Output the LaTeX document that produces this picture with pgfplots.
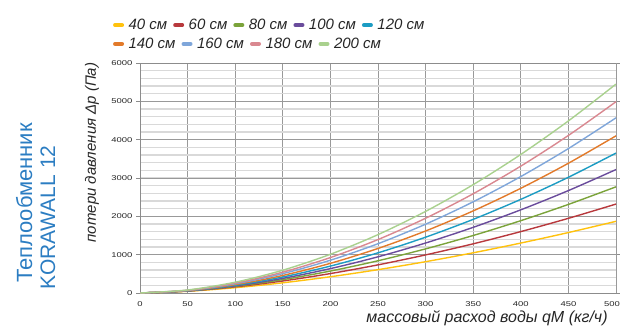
\documentclass[border=0pt]{standalone}
\usepackage{fontspec}
\setmainfont{Liberation Sans}
\newfontfamily\tickfont[FakeStretch=1.35]{Liberation Sans}
\usepackage{pgfplots}
\usepackage{pgfplotstable}
\pgfplotsset{compat=1.18}
\definecolor{c40}{HTML}{FFC20E}
\definecolor{c60}{HTML}{B8393D}
\definecolor{c80}{HTML}{7BA33A}
\definecolor{c100}{HTML}{6A4C9C}
\definecolor{c120}{HTML}{1C9CC3}
\definecolor{c140}{HTML}{E27A2A}
\definecolor{c160}{HTML}{7FA6DA}
\definecolor{c180}{HTML}{D98890}
\definecolor{c200}{HTML}{A9D18E}
\definecolor{titleblue}{HTML}{2B7DC2}
\pgfplotstableread{
x s40 s60 s80 s100 s120 s140 s160 s180 s200
0 0 0 0 0 0 0 0 0 0
50 45 51 53 55 58 62 68 72 79
100 138 160 174 186 201 219 240 258 282
150 266 314 349 382 418 458 505 544 595
200 424 507 573 636 702 774 855 925 1010
250 609 734 841 944 1048 1162 1286 1394 1523
300 817 994 1151 1304 1456 1618 1795 1950 2129
350 1049 1283 1500 1713 1921 2142 2379 2589 2827
400 1303 1602 1887 2170 2443 2732 3038 3310 3615
450 1577 1948 2311 2672 3019 3385 3768 4110 4489
500 1870 2320 2770 3220 3650 4100 4570 4990 5450
}\data
\pgfplotsset{
  common/.style={
    at={(140pt,36pt)}, anchor=south west,
    scale only axis, width=476pt, height=230pt,
    xmin=0, xmax=500, ymin=0, ymax=6000,
    legend columns=-1,
    legend style={draw=none, fill=none, inner sep=0pt,
      font=\itshape\fontsize{15}{17}\selectfont, text=black!85,
      /tikz/every even column/.append style={column sep=4pt},
      /tikz/every odd column/.append style={column sep=2.5pt}},
    legend image code/.code={\draw[line width=4pt, line cap=round, ##1] (2pt,0pt) -- (9pt,0pt);},
    every axis plot/.append style={line width=1.4pt, smooth}
  }
}
\begin{document}
\begin{tikzpicture}[x=1pt,y=1pt]
\path[use as bounding box] (0,0) rectangle (620,329);
\node[rotate=90, anchor=base west, inner sep=0pt, text=titleblue, font=\fontsize{22}{24}\selectfont] at (32,46) {Теплообменник};
\node[rotate=90, anchor=base west, inner sep=0pt, text=titleblue, font=\fontsize{21}{24}\selectfont] at (55,39) {KORAWALL 12};
\begin{axis}[
  common,
  xtick={0,50,...,450}, ytick={0,1000,...,6000},
  extra x ticks={500},
  extra x tick style={xticklabel style={xshift=-4pt}},
  minor ytick={200,400,...,5800},
  grid=both,
  major grid style={draw=black!40, line width=0.8pt},
  minor grid style={draw=black!15, line width=1.2pt},
  axis line style={draw=black!45, line width=0.8pt},
  tick style={draw=black!45, line width=0.8pt},
  tick align=outside, major tick length=4pt, minor tick length=0pt,
  xtick style={draw=none},
  /pgf/number format/assume math mode=true,
  /pgf/number format/1000 sep={},
  scaled ticks=false,
  ticklabel style={font=\tickfont\fontsize{7}{8}\selectfont, text=black!85},
  xticklabel style={yshift=-1pt},
  xlabel={массовый расход воды qM (кг/ч)},
  ylabel={потери давления Δp (Па)},
  xlabel style={at={(axis description cs:0.729,-0.109)}, anchor=center, font=\itshape\fontsize{16}{18}\selectfont, text=black!85},
  ylabel style={at={(axis description cs:-0.101,0.611)}, anchor=center, font=\itshape\fontsize{15}{17}\selectfont, text=black!85},
  legend style={at={(-0.057,1.165)}, anchor=west},
]
\addplot[c40] table[x=x,y=s40]{\data}; \addlegendentry{40 см}
\addplot[c60] table[x=x,y=s60]{\data}; \addlegendentry{60 см}
\addplot[c80] table[x=x,y=s80]{\data}; \addlegendentry{80 см}
\addplot[c100] table[x=x,y=s100]{\data}; \addlegendentry{100 см}
\addplot[c120] table[x=x,y=s120]{\data}; \addlegendentry{120 см}
\end{axis}
\begin{axis}[
  common, hide axis,
  legend style={at={(-0.057,1.083)}, anchor=west},
]
\addplot[c140] table[x=x,y=s140]{\data}; \addlegendentry{140 см}
\addplot[c160] table[x=x,y=s160]{\data}; \addlegendentry{160 см}
\addplot[c180] table[x=x,y=s180]{\data}; \addlegendentry{180 см}
\addplot[c200] table[x=x,y=s200]{\data}; \addlegendentry{200 см}
\end{axis}
\end{tikzpicture}
\end{document}
